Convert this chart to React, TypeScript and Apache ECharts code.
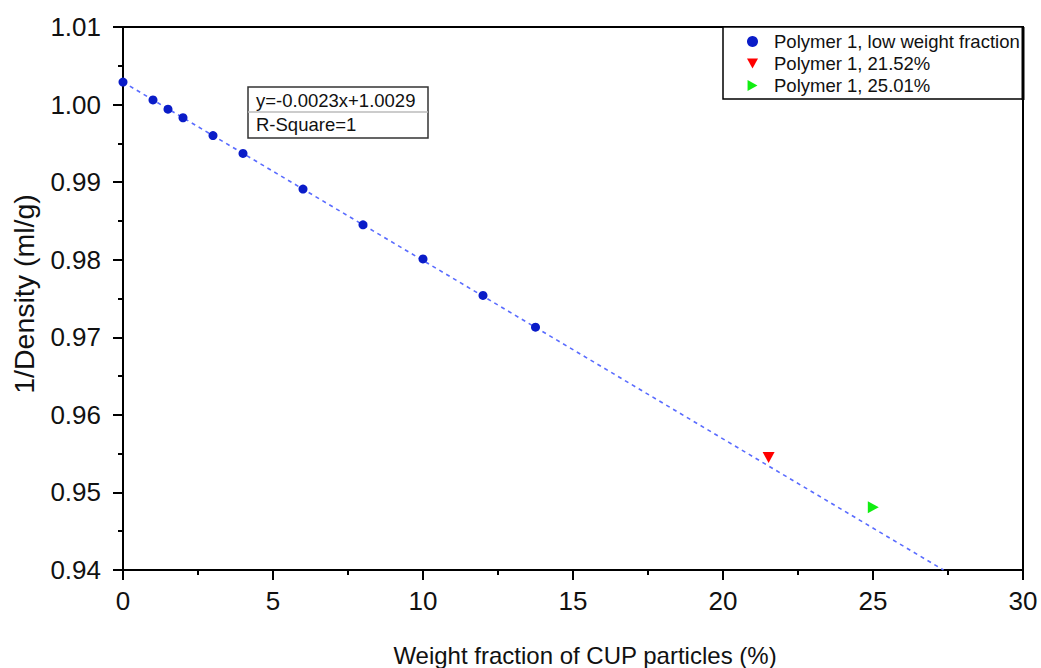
import React, { useEffect, useRef } from "react";
import * as echarts from "echarts";

const lowFractionX = [0, 1, 1.5, 2, 3, 4, 6, 8, 10, 12, 13.75];
const lowFractionY = [1.0029, 1.0006, 0.9994, 0.9983, 0.996, 0.9937, 0.9891, 0.9845, 0.9801, 0.9754, 0.9713];
const point2152 = [21.52, 0.9545];
const point2501 = [25.01, 0.9481];
const fitLine = [
  [0, 1.0029],
  [27.35, 0.94],
];
const seriesNames = ["Polymer 1, low weight fraction", "Polymer 1, 21.52%", "Polymer 1, 25.01%"];
const equationText = "y=-0.0023x+1.0029";
const rSquareText = "R-Square=1";
const xTitle = "Weight fraction of CUP particles (%)";
const yTitle = "1/Density (ml/g)";

const FONT = "'Liberation Sans', Arial, Helvetica, sans-serif";

export default function App() {
  const ref = useRef<HTMLDivElement>(null);
  useEffect(() => {
    if (!ref.current) return;
    const chart = echarts.init(ref.current, undefined, { renderer: "svg" });
    const gridLeft = 123;
    const gridTop = 27;
    const gridW = 900;
    const gridH = 543;
    chart.setOption({
      animation: false,
      backgroundColor: "#ffffff",
      textStyle: { fontFamily: FONT },
      grid: {
        left: gridLeft,
        top: gridTop,
        width: gridW,
        height: gridH,
        show: true,
        borderColor: "#000",
        borderWidth: 2,
        backgroundColor: "transparent",
      },
      xAxis: {
        type: "value",
        min: 0,
        max: 30,
        interval: 5,
        axisLine: { show: true, onZero: false, lineStyle: { color: "#000", width: 2 } },
        axisTick: { show: true, length: 10, lineStyle: { color: "#000", width: 2 } },
        minorTick: { show: true, splitNumber: 2, length: 5, lineStyle: { color: "#000", width: 2 } },
        splitLine: { show: false },
        axisLabel: { fontSize: 26, color: "#111", margin: 18, fontFamily: FONT },
      },
      yAxis: {
        type: "value",
        min: 0.94,
        max: 1.01,
        interval: 0.01,
        axisLine: { show: true, onZero: false, lineStyle: { color: "#000", width: 2 } },
        axisTick: { show: true, length: 10, lineStyle: { color: "#000", width: 2 } },
        minorTick: { show: true, splitNumber: 2, length: 5, lineStyle: { color: "#000", width: 2 } },
        splitLine: { show: false },
        axisLabel: {
          fontSize: 26,
          color: "#111",
          margin: 22,
          fontFamily: FONT,
          formatter: (v: number) => v.toFixed(2),
        },
      },
      legend: {
        orient: "vertical",
        left: 742,
        top: 27,
        itemWidth: 11,
        itemHeight: 11,
        itemGap: 3,
        data: seriesNames,
        textStyle: { fontSize: 18.5, color: "#111", fontFamily: FONT, padding: [0, 0, 0, 11] },
      },
      graphic: [
        {
          type: "rect",
          shape: { x: 723, y: 27, width: 300, height: 72 },
          style: { fill: "#fff", stroke: "#000", lineWidth: 1.5 },
          z: 4,
        },
        {
          type: "line",
          shape: { x1: 1023, y1: 27, x2: 1023, y2: 100 },
          style: { stroke: "#000", lineWidth: 3 },
          z: 4,
        },
        {
          type: "group",
          z: 5,
          children: [
            {
              type: "rect",
              shape: { x: 248, y: 87, width: 180, height: 51 },
              style: { fill: "#fff", stroke: "#333", lineWidth: 1.5 },
            },
            {
              type: "line",
              shape: { x1: 248, y1: 112, x2: 428, y2: 112 },
              style: { stroke: "#bbb", lineWidth: 1.5 },
            },
            {
              type: "text",
              x: 256,
              y: 100,
              style: {
                text: equationText,
                fontSize: 18.5,
                fontFamily: FONT,
                fill: "#111",
                verticalAlign: "middle",
              },
            },
            {
              type: "text",
              x: 256,
              y: 124,
              style: {
                text: rSquareText,
                fontSize: 18.5,
                fontFamily: FONT,
                fill: "#111",
                verticalAlign: "middle",
              },
            },
          ],
        },
        {
          type: "text",
          x: 585,
          y: 655,
          style: {
            text: xTitle,
            fontSize: 24,
            fontFamily: FONT,
            fill: "#111",
            align: "center",
            verticalAlign: "middle",
          },
        },
        {
          type: "text",
          x: 24,
          y: 294,
          rotation: Math.PI / 2,
          style: {
            text: yTitle,
            fontSize: 28.5,
            fontFamily: FONT,
            fill: "#111",
            align: "center",
            verticalAlign: "middle",
          },
        },
      ],
      series: [
        {
          name: "fit",
          type: "line",
          data: fitLine,
          symbol: "none",
          silent: true,
          lineStyle: { color: "#5a6cff", width: 1.6, type: [4, 4] },
          z: 1,
        },
        {
          name: seriesNames[0],
          type: "scatter",
          data: lowFractionX.map((x, i) => [x, lowFractionY[i]]),
          symbol: "circle",
          symbolSize: 9,
          itemStyle: { color: "#0a1cc8", opacity: 1 },
          z: 3,
        },
        {
          name: seriesNames[1],
          type: "scatter",
          data: [point2152],
          symbol: "path://M0,0 L10,0 L5,9 Z",
          symbolSize: [12, 11],
          itemStyle: { color: "#ff0000", opacity: 1 },
          z: 3,
        },
        {
          name: seriesNames[2],
          type: "scatter",
          data: [point2501],
          symbol: "path://M0,0 L9,5 L0,10 Z",
          symbolSize: [11, 12],
          itemStyle: { color: "#11ee11", opacity: 1 },
          z: 3,
        },
      ],
    });
    return () => chart.dispose();
  }, []);
  return (
    <div
      ref={ref}
      style={{ position: "fixed", left: 0, top: 0, width: 1041, height: 668, background: "#fff" }}
    />
  );
}
